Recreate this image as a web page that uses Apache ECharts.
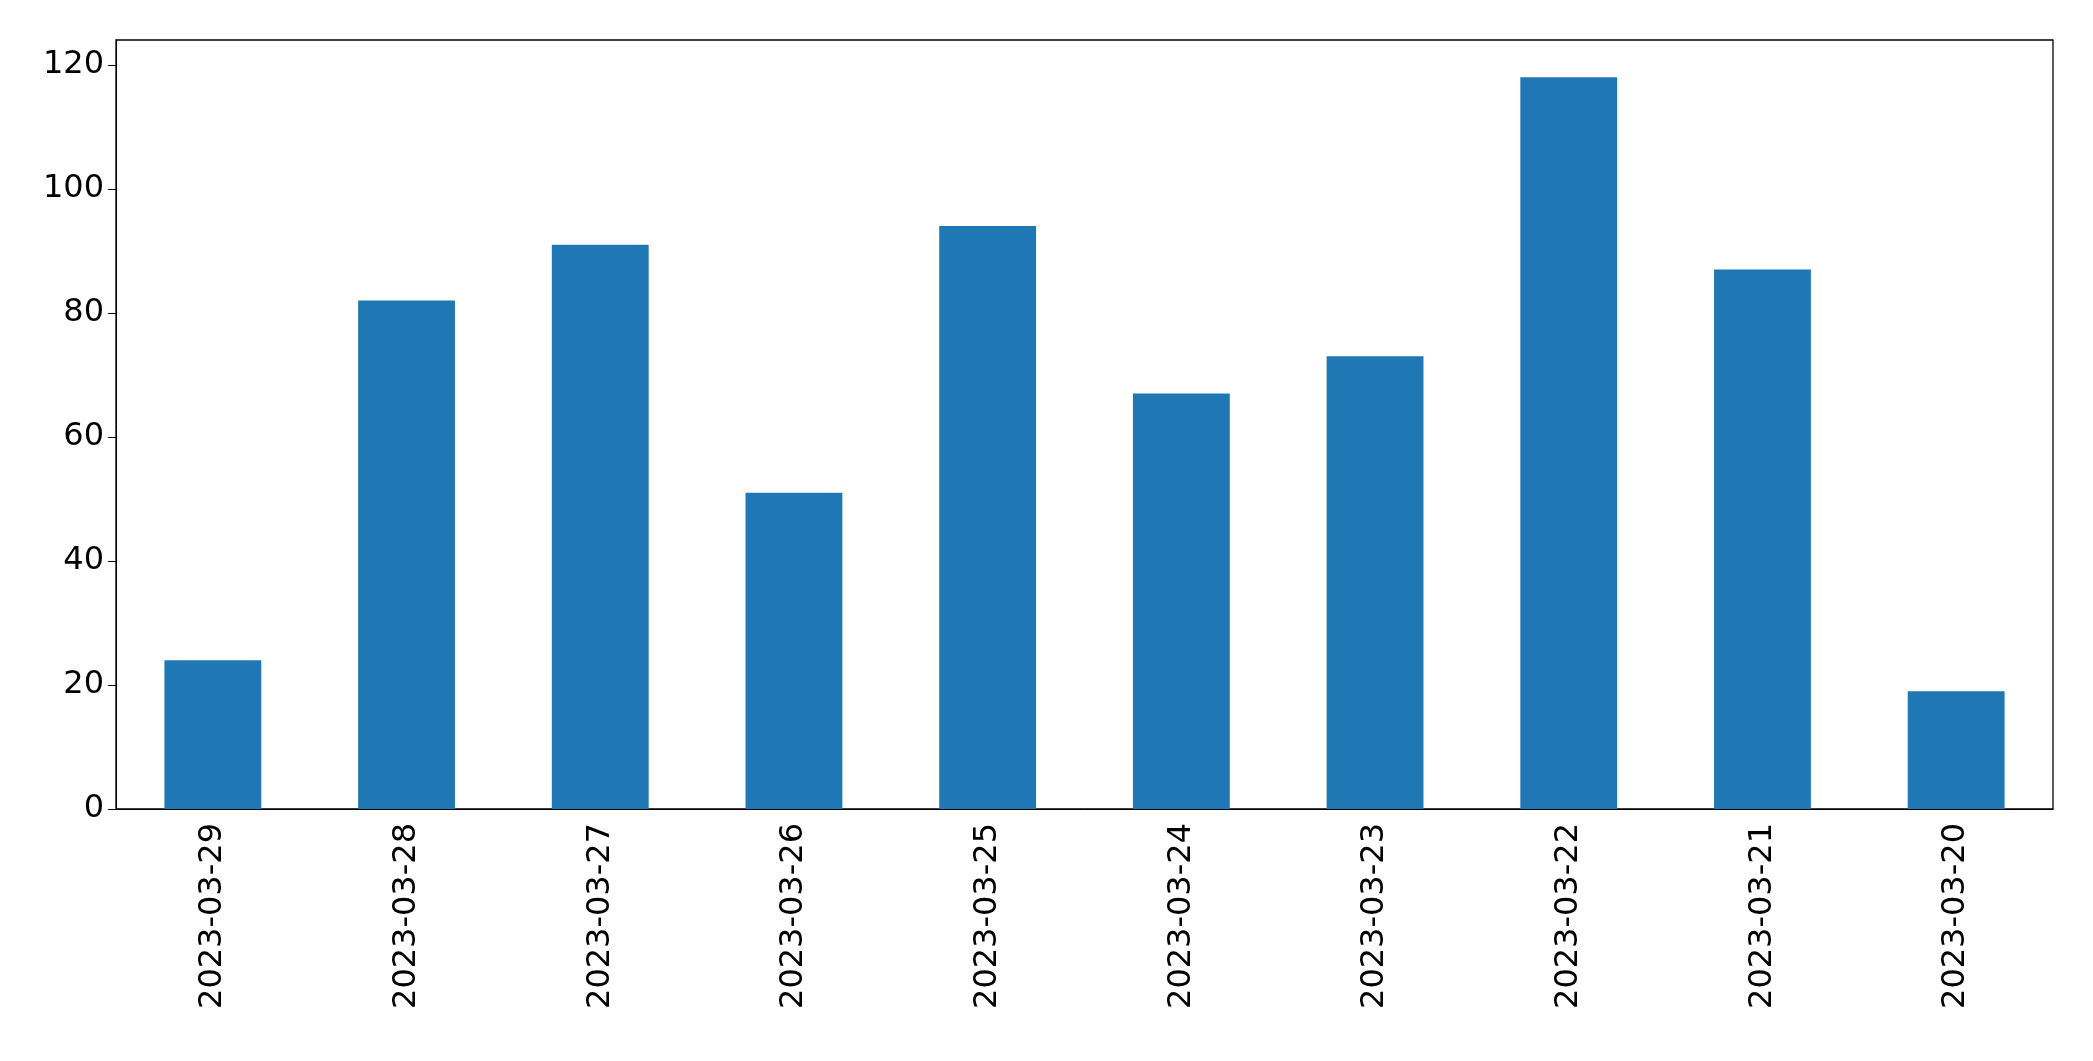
<!DOCTYPE html>
<html><head><meta charset="utf-8">
<script src="https://cdn.jsdelivr.net/npm/echarts@6/dist/echarts.min.js"></script>
<style>html,body{margin:0;padding:0;background:#fff}#c{width:2093px;height:1061px}</style>
</head><body><div id="c"></div>
<script>
const categories = ["2023-03-29","2023-03-28","2023-03-27","2023-03-26","2023-03-25","2023-03-24","2023-03-23","2023-03-22","2023-03-21","2023-03-20"];
const values = [24, 82, 91, 51, 94, 67, 73, 118, 87, 19];
const chart = echarts.init(document.getElementById('c'));
chart.setOption({
  animation: false,
  grid: {left: 116, right: 40, top: 40, bottom: 252, show: true, borderColor: '#000', borderWidth: 1.3, backgroundColor: 'transparent'},
  xAxis: {type: 'category', data: categories, boundaryGap: true,
    axisLine: {lineStyle: {color: '#000'}},
    axisTick: {alignWithLabel: true, length: 8, lineStyle: {color: '#000'}},
    axisLabel: {rotate: 90, color: '#000', fontSize: 32, fontFamily: 'DejaVu Sans', margin: 14}},
  yAxis: {type: 'value', min: 0, max: 124, interval: 20,
    axisLine: {show: true, lineStyle: {color: '#000'}},
    axisTick: {show: true, length: 8, lineStyle: {color: '#000'}},
    splitLine: {show: false},
    axisLabel: {color: '#000', fontSize: 32, fontFamily: 'DejaVu Sans', margin: 12, showMaxLabel: false}},
  series: [{type: 'bar', data: values, barWidth: '50%', itemStyle: {color: '#1f77b4'}}]
});
</script></body></html>
